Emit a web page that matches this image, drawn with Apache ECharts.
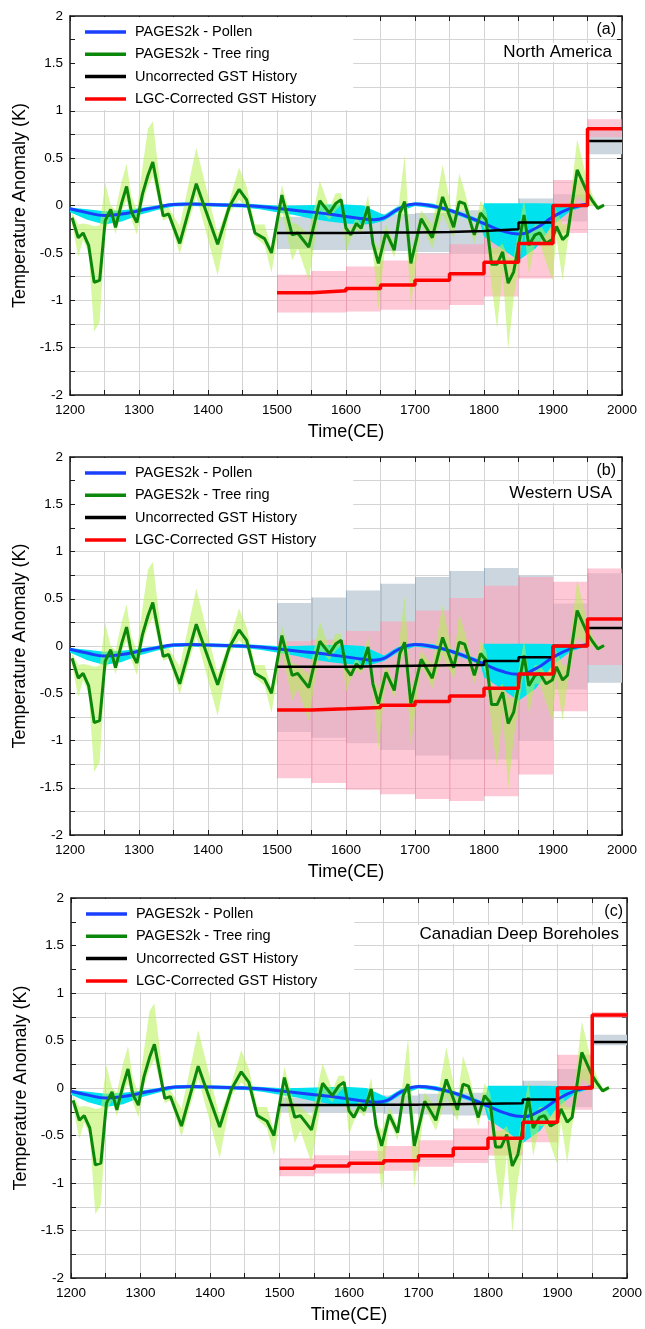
<!DOCTYPE html>
<html><head><meta charset="utf-8">
<script src="https://cdn.jsdelivr.net/npm/echarts@6/dist/echarts.min.js"></script>
<style>html,body{margin:0;padding:0;background:#fff}#c{width:645px;height:1329px}</style>
</head><body><div id="c"></div>
<script>
// ---------------- DATA ----------------
const treeYears = [1203,1212,1219,1227,1235,1243,1251,1259,1266,1275,1282,1289,1297,1305,1313,1320,1335,1343,1359,1383,1414,1431,1445,1456,1468,1482,1492,1507,1522,1530,1546,1562,1576,1585,1593,1600,1607,1615,1622,1632,1639,1647,1658,1670,1678,1685,1694,1709,1725,1740,1756,1764,1772,1786,1795,1803,1811,1819,1827,1835,1843,1858,1865,1874,1881,1890,1899,1905,1914,1921,1935,1950,1958,1965,1974];
const treeVals  = [-0.13,-0.34,-0.29,-0.42,-0.81,-0.79,-0.16,-0.04,-0.23,0.03,0.2,-0.07,-0.18,0.12,0.32,0.46,-0.11,-0.09,-0.40,0.23,-0.41,-0.01,0.17,0.06,-0.29,-0.35,-0.50,0.11,-0.31,-0.29,-0.44,0.05,-0.08,0.02,0.06,-0.24,-0.31,-0.19,-0.24,-0.01,-0.40,-0.61,-0.28,-0.47,-0.08,0.04,-0.61,-0.14,-0.34,0.09,-0.23,0.04,0.02,-0.31,-0.08,-0.15,-0.62,-0.62,-0.49,-0.82,-0.70,-0.10,-0.42,-0.31,-0.29,-0.40,-0.36,-0.22,-0.36,-0.31,0.375,0.13,0.04,-0.03,0.005];
const treeLo    = [-0.2,-0.54,-0.36,-0.5,-1.33,-1.23,-0.27,-0.12,-0.3,-0.05,0.05,-0.15,-0.31,0.02,0.2,0.3,-0.16,-0.13,-0.51,0.1,-0.74,-0.08,0.06,-0.02,-0.33,-0.42,-0.71,-0.06,-0.58,-0.45,-0.79,-0.05,-0.15,-0.05,0.0,-0.49,-0.35,-0.25,-0.3,-0.1,-0.5,-1.1,-0.35,-0.55,-0.2,-0.05,-1.05,-0.2,-0.45,-0.1,-0.35,-0.05,-0.05,-0.4,-0.15,-0.3,-0.85,-1.3,-0.7,-1.52,-0.98,-0.25,-0.72,-0.4,-0.4,-0.6,-0.79,-0.35,-0.79,-0.4,0.1,0.0,0.0,-0.05,-0.02];
const treeHi    = [-0.08,-0.2,-0.19,-0.2,-0.22,-0.21,0.24,0.0,-0.05,0.26,0.44,0.1,-0.05,0.4,0.81,0.89,-0.04,-0.02,-0.22,0.61,-0.3,0.05,0.4,0.2,-0.2,-0.2,-0.45,0.22,-0.18,-0.2,-0.3,0.26,-0.02,0.13,0.13,-0.2,-0.25,-0.12,-0.2,0.11,-0.35,-0.45,-0.2,-0.4,0.1,0.53,-0.5,-0.05,-0.2,0.43,-0.15,0.34,0.15,-0.25,0.05,-0.05,-0.45,-0.45,-0.4,-0.55,-0.55,0.06,-0.3,-0.2,-0.2,-0.3,-0.2,-0.05,-0.2,-0.2,0.7,0.25,0.1,0.0,0.02];

const pollenYears = [1200,1225,1250,1275,1300,1325,1350,1375,1400,1425,1450,1475,1500,1525,1550,1575,1600,1625,1640,1655,1675,1700,1725,1750,1775,1795,1800,1825,1850,1875,1900,1925,1950];
const pollenVals  = [-0.035,-0.075,-0.105,-0.09,-0.055,-0.02,0.01,0.015,0.01,0.005,0.0,-0.01,-0.03,-0.05,-0.07,-0.09,-0.115,-0.14,-0.15,-0.13,-0.04,0.015,-0.005,-0.05,-0.115,-0.175,-0.19,-0.265,-0.3,-0.24,-0.12,-0.03,0.015];
const pollenLo    = [-0.07,-0.15,-0.2,-0.17,-0.1,-0.05,-0.01,-0.005,-0.01,-0.015,-0.02,-0.04,-0.07,-0.1,-0.14,-0.17,-0.19,-0.2,-0.19,-0.16,-0.07,-0.005,-0.03,-0.075,-0.14,-0.2,-0.33,-0.45,-0.58,-0.45,-0.2,-0.06,0.0];
const pollenHi    = [-0.02,-0.04,-0.06,-0.05,-0.03,0.0,0.03,0.035,0.03,0.025,0.02,0.01,0.0,0.0,0.005,0.01,0.01,0.0,-0.05,-0.1,-0.01,0.035,0.02,-0.03,-0.09,-0.15,0.025,0.025,0.025,0.025,0.02,0.0,0.03];

const gstBounds = [1500,1550,1600,1650,1700,1750,1800,1850,1900,1950,2000];

const uncorrA   = [-0.29,-0.29,-0.285,-0.285,-0.28,-0.27,-0.25,-0.18,0,0.68];
const uncorrLoA = [-0.46,-0.47,-0.47,-0.48,-0.49,-0.5,-0.51,-0.43,-0.17,0.54];
const uncorrHiA = [-0.12,-0.11,-0.1,-0.09,-0.08,-0.05,0.015,0.075,0.12,0.79];
const corrA     = [-0.92,-0.9,-0.875,-0.84,-0.79,-0.72,-0.6,-0.4,0,0.81];
const corrLoA   = [-1.13,-1.13,-1.12,-1.1,-1.1,-1.05,-0.96,-0.77,-0.29,0.72];
const corrHiA   = [-0.73,-0.69,-0.645,-0.58,-0.51,-0.41,-0.25,-0.03,0.27,0.91];

const uncorrB   = [-0.22,-0.22,-0.215,-0.21,-0.205,-0.2,-0.16,-0.12,0,0.19];
const uncorrLoB = [-0.91,-0.97,-1.03,-1.1,-1.16,-1.2,-1.2,-1.0,-0.46,-0.39];
const uncorrHiB = [0.454,0.514,0.588,0.659,0.73,0.793,0.825,0.747,0.45,0.77];
const corrB     = [-0.676,-0.665,-0.651,-0.627,-0.588,-0.528,-0.447,-0.295,0,0.285];
const corrLoB   = [-1.40,-1.45,-1.52,-1.57,-1.62,-1.64,-1.59,-1.36,-0.69,-0.20];
const corrHiB   = [0.05,0.066,0.16,0.26,0.376,0.507,0.637,0.73,0.68,0.82];

const uncorrC   = [-0.18,-0.18,-0.175,-0.175,-0.17,-0.165,-0.16,-0.12,0,0.485];
const uncorrLoC = [-0.26,-0.26,-0.26,-0.27,-0.28,-0.29,-0.32,-0.32,-0.2,0.45];
const uncorrHiC = [-0.10,-0.10,-0.09,-0.08,-0.06,-0.05,0.0,0.077,0.2,0.56];
const corrC     = [-0.845,-0.82,-0.793,-0.765,-0.712,-0.635,-0.53,-0.36,0,0.768];
const corrLoC   = [-0.93,-0.9,-0.9,-0.87,-0.83,-0.79,-0.71,-0.57,-0.23,0.74];
const corrHiC   = [-0.74,-0.707,-0.66,-0.61,-0.55,-0.425,-0.35,-0.17,0.35,0.80];

const panelTags  = ['(a)','(b)','(c)'];
const panelNames = ['North America','Western USA','Canadian Deep Boreholes'];
const legendNames = ['PAGES2k - Pollen','PAGES2k - Tree ring','Uncorrected GST History','LGC-Corrected GST History'];
const xName = 'Time(CE)';
const yName = 'Temperature Anomaly (K)';

// ---------------- CHART ----------------
const FONT = '"Liberation Sans", Arial, Helvetica, sans-serif';
const panels = [
  {unc:uncorrA, uncLo:uncorrLoA, uncHi:uncorrHiA, cor:corrA, corLo:corrLoA, corHi:corrHiA},
  {unc:uncorrB, uncLo:uncorrLoB, uncHi:uncorrHiB, cor:corrB, corLo:corrLoB, corHi:corrHiB},
  {unc:uncorrC, uncLo:uncorrLoC, uncHi:uncorrHiC, cor:corrC, corLo:corrLoC, corHi:corrHiC}
];
const grids = [
  {left:70, top:16, width:552, height:379},
  {left:70, top:457, width:552, height:378},
  {left:71, top:898, width:558, height:380}
];
const C = {
  gray:'#cbd6de', grayEdge:'rgba(120,145,165,0.55)',
  pink:'rgba(255,160,184,0.58)', pinkEdge:'rgba(235,110,140,0.35)',
  cyan:'#00e3ef', lime:'rgba(182,240,82,0.55)',
  blue:'#1a3fff', green:'#0b870b', black:'#000000', red:'#ff0000', grid:'#d4d4d4', axis:'#1a1a1a'
};

function rectItem(color, edge){
  return function(params, api){
    const a = api.coord([api.value(0), api.value(3)]);
    const b = api.coord([api.value(1), api.value(2)]);
    return {type:'group', children:[
      {type:'rect', shape:{x:a[0], y:a[1], width:b[0]-a[0], height:b[1]-a[1]}, style:{fill:color}},
      {type:'line', shape:{x1:a[0]+0.5, y1:a[1], x2:a[0]+0.5, y2:b[1]}, style:{stroke:edge, lineWidth:1}}
    ]};
  };
}
function bandItem(xs, lo, hi, color){
  return function(params, api){
    if (params.dataIndex !== 0) return null;
    const pts = [];
    for (let k=0;k<xs.length;k++) pts.push(api.coord([xs[k], hi[k]]));
    for (let k=xs.length-1;k>=0;k--) pts.push(api.coord([xs[k], lo[k]]));
    return {type:'polygon', shape:{points:pts}, style:{fill:color}};
  };
}
function rects(lo, hi){ return lo.map((v,k)=>[gstBounds[k], gstBounds[k+1], v, hi[k]]); }
function steps(vals){ return gstBounds.map((b,k)=>[b, vals[Math.min(k, vals.length-1)]]); }

const xAxis = [], yAxis = [], series = [], legend = [], title = [];
const axLine = {show:true, onZero:false, lineStyle:{color:C.axis, width:1.5}};
const split = {show:true, lineStyle:{color:C.grid, width:1}};
panels.forEach((p, i) => {
  const g = grids[i];
  const xBase = {gridIndex:i, type:'value', min:1200, max:2000, interval:100,
    axisLine:axLine, axisTick:{show:true, inside:true, length:5, lineStyle:{color:C.axis}},
    minorTick:{show:true, splitNumber:2, length:5, lineStyle:{color:C.axis}}};
  xAxis.push(Object.assign({}, xBase, {position:'bottom',
    splitLine:split, minorSplitLine:split,
    axisLabel:{fontSize:13.5, color:'#000', fontFamily:FONT, margin:8, formatter:(v)=>String(v)},
    name:xName, nameLocation:'middle', nameGap:28,
    nameTextStyle:{fontSize:18, color:'#000', fontFamily:FONT}}));
  xAxis.push(Object.assign({}, xBase, {position:'top', splitLine:{show:false}, axisLabel:{show:false}}));
  const yBase = {gridIndex:i, type:'value', min:-2, max:2, interval:0.5,
    axisLine:axLine, axisTick:{show:true, inside:true, length:5, lineStyle:{color:C.axis}},
    minorTick:{show:true, splitNumber:2, length:5, lineStyle:{color:C.axis}}};
  yAxis.push(Object.assign({}, yBase, {position:'left',
    splitLine:split, minorSplitLine:split,
    axisLabel:{fontSize:13.5, color:'#000', fontFamily:FONT, margin:7},
    name:yName, nameLocation:'middle', nameGap:38, nameRotate:90,
    nameTextStyle:{fontSize:18, color:'#000', fontFamily:FONT}}));
  yAxis.push(Object.assign({}, yBase, {position:'right', splitLine:{show:false}, axisLabel:{show:false}}));

  const xi = 2*i, yi = 2*i;
  series.push({type:'custom', name:'gray'+i, xAxisIndex:xi, yAxisIndex:yi, renderItem:rectItem(C.gray, C.grayEdge),
    encode:{x:[0,1], y:[2,3]}, data:rects(p.uncLo, p.uncHi), silent:true});
  series.push({type:'custom', name:'pink'+i, xAxisIndex:xi, yAxisIndex:yi, renderItem:rectItem(C.pink, C.pinkEdge),
    encode:{x:[0,1], y:[2,3]}, data:rects(p.corLo, p.corHi), silent:true});
  series.push({type:'custom', name:'cyan'+i, xAxisIndex:xi, yAxisIndex:yi,
    renderItem:bandItem(pollenYears, pollenLo, pollenHi, C.cyan),
    encode:{x:0, y:[1,2]}, data:pollenYears.map((x,k)=>[x, pollenLo[k], pollenHi[k]]), silent:true});
  series.push({type:'custom', name:'lime'+i, xAxisIndex:xi, yAxisIndex:yi,
    renderItem:bandItem(treeYears, treeLo, treeHi, C.lime),
    encode:{x:0, y:[1,2]}, data:treeYears.map((x,k)=>[x, treeLo[k], treeHi[k]]), silent:true});
  series.push({type:'line', name:legendNames[0], xAxisIndex:xi, yAxisIndex:yi, color:C.blue,
    smooth:0.5, showSymbol:false, lineStyle:{width:3, color:C.blue},
    data:pollenYears.map((x,k)=>[x, pollenVals[k]])});
  series.push({type:'line', name:legendNames[1], xAxisIndex:xi, yAxisIndex:yi, color:C.green,
    showSymbol:false, lineStyle:{width:3, color:C.green},
    data:treeYears.map((x,k)=>[x, treeVals[k]])});
  series.push({type:'line', name:legendNames[2], xAxisIndex:xi, yAxisIndex:yi, color:C.black,
    step:'end', showSymbol:false, lineStyle:{width:2.5, color:C.black}, data:steps(p.unc)});
  series.push({type:'line', name:legendNames[3], xAxisIndex:xi, yAxisIndex:yi, color:C.red,
    step:'end', showSymbol:false, lineStyle:{width:3.5, color:C.red}, data:steps(p.cor)});

  legend.push({left:g.left+5, top:g.top+1, orient:'vertical', icon:'rect', itemWidth:41, itemHeight:3.5,
    itemGap:6.3, backgroundColor:'#fff', padding:[7,37,3,10], selectedMode:false,
    textStyle:{fontSize:14.5, color:'#000', fontFamily:FONT, lineHeight:16, padding:[0,0,0,4]},
    data:legendNames});
  const rightEdge = 645 - (g.left + g.width);
  title.push({text:panelTags[i], right:rightEdge+6, top:g.top+6, padding:0,
    textStyle:{fontSize:16, fontWeight:'normal', color:'#000', fontFamily:FONT}});
  title.push({text:panelNames[i], right:rightEdge+8, top:g.top+27, padding:[1,2],
    backgroundColor:'#fff',
    textStyle:{fontSize:17, fontWeight:'normal', color:'#000', fontFamily:FONT}});
});

const chart = echarts.init(document.getElementById('c'), null, {renderer:'canvas'});
chart.setOption({animation:false, backgroundColor:'#fff', grid:grids, xAxis, yAxis, series, legend, title});
</script></body></html>
